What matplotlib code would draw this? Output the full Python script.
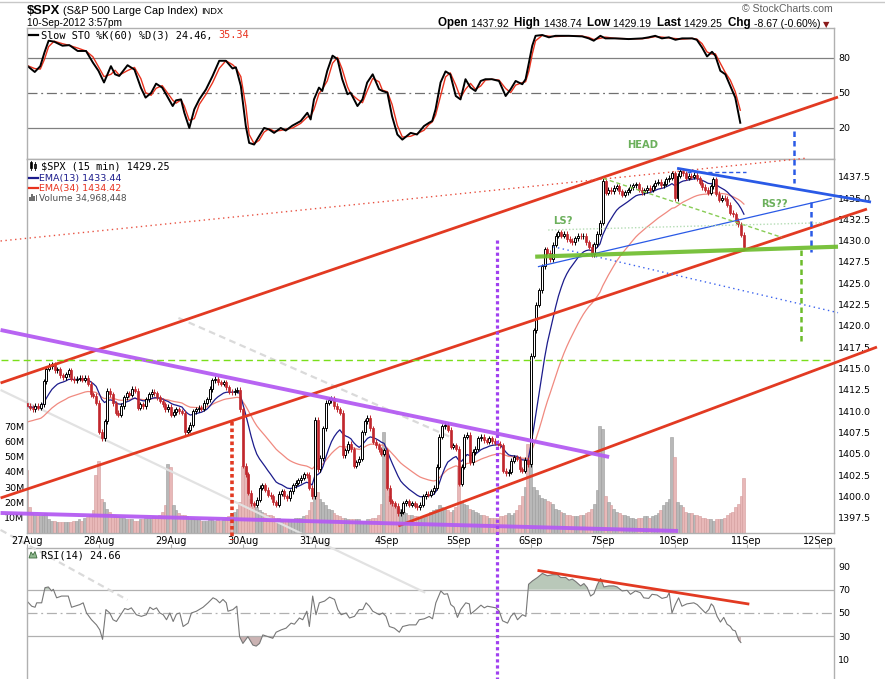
import numpy as np
import matplotlib
matplotlib.use("Agg")
import matplotlib.pyplot as plt
from matplotlib.patches import Rectangle, Polygon

plt.rcParams['font.family'] = ['DejaVu Sans']

# ---------------- data ----------------
day_labels = ["27Aug", "28Aug", "29Aug", "30Aug", "31Aug", "4Sep", "5Sep",
              "6Sep", "7Sep", "10Sep", "11Sep", "12Sep"]
bars_per_day = 26
first_open = 1410.9

close_27aug = [1410.6, 1410.4, 1410.2, 1410.6, 1410.4, 1410.8, 1413.5, 1415.0, 1415.3, 1415.5, 1414.8, 1414.9, 1414.2,
               1414.0, 1414.3, 1414.8, 1413.8, 1413.6, 1413.8, 1413.9, 1413.7, 1413.9, 1413.2, 1412.0, 1411.8, 1411.0]
close_28aug = [1407.6, 1406.8, 1408.8, 1412.4, 1412.0, 1410.9, 1409.8, 1409.6, 1410.6, 1411.6, 1412.1, 1411.9, 1412.6,
               1412.4, 1410.4, 1410.8, 1410.6, 1411.4, 1412.0, 1412.3, 1412.1, 1411.6, 1411.2, 1410.8, 1410.2, 1410.5]
close_29aug = [1409.6, 1409.9, 1410.2, 1410.0, 1409.8, 1407.5, 1407.8, 1408.4, 1410.0, 1410.2, 1410.4, 1410.3, 1411.0,
               1411.4, 1412.6, 1413.6, 1413.8, 1413.4, 1413.2, 1413.4, 1412.8, 1412.3, 1412.2, 1412.4, 1412.5, 1410.2]
close_30aug = [1403.6, 1402.6, 1400.4, 1399.2, 1399.0, 1399.6, 1401.0, 1401.3, 1400.8, 1400.2, 1400.0, 1399.3, 1399.0,
               1400.3, 1400.6, 1400.0, 1399.8, 1400.6, 1401.3, 1401.6, 1401.9, 1402.2, 1402.6, 1402.5, 1401.0, 1400.0]
close_31aug = [1409.0, 1403.2, 1404.5, 1408.0, 1411.0, 1411.3, 1411.5, 1410.6, 1410.2, 1409.8, 1404.8, 1405.4, 1406.2,
               1405.5, 1403.6, 1404.0, 1404.4, 1407.5, 1408.8, 1409.2, 1408.0, 1406.4, 1406.0, 1405.5, 1405.0, 1405.4]
close_4sep = [1401.0, 1399.4, 1399.2, 1398.9, 1398.0, 1398.2, 1399.2, 1399.4, 1399.0, 1399.2, 1398.9, 1398.7, 1399.0,
              1400.0, 1400.3, 1400.2, 1400.6, 1401.0, 1403.5, 1407.0, 1408.2, 1408.4, 1407.8, 1405.8, 1406.0, 1405.6]
close_5sep = [1401.5, 1403.5, 1407.0, 1407.2, 1404.0, 1405.2, 1405.6, 1406.8, 1407.0, 1406.6, 1406.4, 1406.8, 1406.5,
              1406.3, 1406.2, 1406.0, 1403.0, 1402.7, 1402.9, 1404.2, 1404.6, 1404.4, 1403.2, 1403.0, 1404.3, 1403.8]
close_6sep = [1416.5, 1419.5, 1422.5, 1424.2, 1427.0, 1429.0, 1428.6, 1427.8, 1429.5, 1430.6, 1431.0, 1430.6, 1430.8,
              1430.2, 1430.0, 1429.8, 1430.3, 1430.6, 1430.5, 1430.6, 1429.8, 1429.3, 1428.4, 1429.6, 1430.8, 1432.1]
close_7sep = [1437.0, 1435.6, 1436.0, 1435.8, 1436.2, 1436.4, 1435.8, 1435.4, 1435.7, 1435.9, 1436.3, 1436.5, 1436.6,
              1436.0, 1435.7, 1435.9, 1436.2, 1436.0, 1436.4, 1436.8, 1436.9, 1436.5, 1436.7, 1437.2, 1437.4, 1437.9]
close_10sep = [1435.0, 1437.6, 1438.2, 1437.9, 1437.4, 1437.6, 1437.5, 1437.7, 1437.3, 1436.8, 1436.3, 1436.0, 1435.6,
               1436.4, 1437.2, 1435.5, 1434.8, 1435.0, 1434.9, 1434.2, 1433.3, 1433.1, 1432.3, 1431.9, 1430.7, 1429.25]

# volume in millions
vol_27aug = [41, 17, 13, 12, 12, 11, 12, 13, 9, 8, 8, 7, 7, 7, 7.5, 7, 7, 8, 8, 9, 8, 10, 10.5, 12, 15, 38]
vol_28aug = [47, 22, 20, 16, 14, 12, 12, 11, 10, 10, 9, 9, 9, 8, 8, 9, 9, 10, 10, 10, 11, 11, 12, 14, 18, 45]
vol_29aug = [43, 18, 15, 13, 12, 12, 11, 10, 10, 9, 9, 8, 8, 8, 9, 9, 8, 9, 8, 9, 10, 11, 12, 14, 16, 20]
vol_30aug = [44, 43, 38, 22, 19, 17, 15, 14, 13, 12, 12, 11, 10, 10, 9, 9, 9, 9, 9, 10, 10, 10, 11, 12, 15, 20]
vol_31aug = [27, 27, 22, 20, 18, 16, 15, 13, 12, 11, 10, 10, 9, 9, 9, 9, 9, 8, 8, 9, 9, 10, 10, 12, 19, 66]
vol_4sep = [52, 24, 20, 18, 17, 16, 14, 13, 12, 12, 11, 11, 10, 10, 11, 12, 14, 15, 16, 18, 17, 16, 15, 14, 15, 17]
vol_5sep = [43, 20, 19, 18, 16, 15, 14, 13, 12, 12, 11, 10, 10, 10, 10, 11, 11, 12, 13, 12, 13, 15, 18, 24, 30, 58]
vol_6sep = [52, 30, 28, 25, 23, 22, 21, 20, 19, 16, 15, 14, 13, 12, 12, 11, 11, 11, 12, 12, 13, 14, 16, 19, 28, 70]
vol_7sep = [68, 24, 20, 18, 16, 14, 13, 12, 12, 11, 10, 10, 9, 10, 10, 11, 11, 10, 11, 12, 13, 15, 18, 20, 22, 63]
vol_10sep = [50, 20, 18, 17, 14, 13, 13, 12, 12, 11, 10, 10, 9, 9, 8, 9, 9, 9, 10, 12, 13, 14, 17, 19, 24, 36]

ema13_start = 1410.5
ema34_start = 1408.6

# Slow STO %K(60), read at bar positions
sto_x = [0, 3, 5, 6.5, 8, 10, 13, 15.5, 18.5, 21.5, 24, 26, 28, 30.5, 32, 33.5, 36.5, 39, 41.3, 43, 45, 46.8, 49,
         50.4, 52.8, 54, 55.8, 57, 58.8, 60.6, 62.4, 64.8, 67.2, 69.6, 72, 74.4, 75.6, 77.4, 79.2, 80.4, 82.2, 84,
         85.8, 87.6, 89.4, 91.8, 93.6, 96, 99, 101.4, 102.6, 103.8, 105.6, 106.8, 108.6, 110.5, 112.3, 114, 115.9,
         117, 119.5, 121.3, 123, 125, 127.3, 128.5, 130.3, 132, 133.9, 135.7, 138.7, 141, 143.5, 145.3, 146.5,
         147.7, 149.5, 151.3, 153, 155, 156.7, 158.5, 160.3, 162.1, 164, 165.7, 168, 170.6, 173, 174.8, 176.6, 179,
         180.2, 181.4, 182.6, 183.8, 186.2, 188.6, 191, 195.8, 200.6, 203, 204.8, 207.2, 209, 212.6, 217.4, 222.3,
         224.6, 227, 229.4, 231.9, 234.3, 236.7, 240.3, 242, 243.9, 245.7, 247.5, 248.7, 250.5, 252.3, 254.1,
         255.9, 257.7]
sto_k = [73.8, 68, 73, 84.7, 94.8, 94, 90.5, 91, 86, 86, 76, 69, 59, 73, 66, 64.6, 73.8, 70, 54.6, 46, 50, 58, 54.6,
         48.9, 38.8, 43.7, 44.5, 33, 20, 36, 44.5, 53, 64.6, 77.6, 77.6, 71, 72, 56, 21.6, 7.2, 5.8, 13,
         20, 18.7, 15.8, 20, 17.8, 22, 25.9, 33, 27.3, 44.5, 54.6, 51.7, 69, 82, 79, 61.8, 48.9,
         50.3, 38.8, 44.5, 58.9, 66, 53.2, 51.7, 50.3, 30, 14.4, 10, 15.8, 14.4, 21.6, 24.4, 26,
         36, 59, 68.5, 66, 47.4, 44.5, 61.8, 54.6, 51.7, 60.3, 61.8, 61.8, 60.3, 47.4, 53.2, 60.3, 57.5,
         61.8, 76, 90.5, 99, 99.7, 97.7, 99, 99, 98.5, 96.8, 94.8, 99, 96.8, 96.8, 96.2, 96.8,
         97.7, 99, 96.8, 97.7, 95.6, 96.8, 96.8, 95.6, 89, 81.3, 85.3, 81.9, 69, 66, 56,
         46, 24.46]

# RSI(14), read at bar positions
rsi_x = [0, 1.7, 2.9, 3.5, 5.3, 6.5, 7.7, 8.9, 9.5, 10.7, 12.5, 14.9, 16.1, 17.3, 19.1, 20.3, 21.5, 23.3, 25.1,
         26.3, 27.3, 28.5, 29.9, 31.1, 32.3, 33.5, 35.3, 36.5, 37.7, 39.5, 41.3, 43.1, 44.4, 45.6, 46.8, 48, 49.2,
         50.4, 51.6, 52.8, 54, 55.2, 56.4, 58.2, 59.4, 61.2, 63.6, 65.4, 67.2, 68.4, 69.6, 70.8, 72, 72.6, 74.4,
         75.8, 76.8, 78, 79.8, 81.6, 82.8, 84, 85.2, 87, 88.8, 90, 91.8, 93.6, 95.4, 96.6, 98.4, 99.6, 101.1, 102,
         103.2, 104.4, 105.6, 107.5, 109.3, 111.1, 112.3, 113.5, 115.3, 116.5, 118.3, 120, 121.3, 122.5, 123.7,
         124.9, 126.1, 127.3, 128.5, 129.7, 130.9, 132.7, 134.5, 135.7, 138.1, 140.5, 141.7, 143.5, 145.3, 146.5,
         147.7, 149.5, 150.7, 151.9, 153.1, 154.3, 155.5, 156.7, 158.5, 159.8, 160.3, 162.2, 164, 165.2, 166.3,
         168.2, 169.4, 170.6, 171.8, 173.6, 174.8, 176, 177.2, 179, 180.2, 181.2, 182.6, 184.4, 186.2, 188, 189.8,
         191.6, 192.8, 194.6, 195.8, 197, 198.2, 200, 201.2, 202.4, 203.6, 204.8, 206, 207.2, 208.4, 210.2, 212,
         213.2, 215, 216.8, 218, 219.8, 221.6, 222.8, 224.6, 225.8, 227.6, 229.4, 231.2, 232, 233, 234.2, 235.4,
         236.6, 238.4, 240.9, 242.1, 243.9, 245.1, 246.3, 247.2, 248, 249.3, 250.5, 251.7, 252.9, 254.1, 254.9,
         255.9, 257.1, 257.9]
rsi_v = [60.2, 55.8, 54.9, 58.7, 58.7, 71.7, 72.3, 68.9, 70.3, 63, 64.5, 64.5, 54.9, 55.8, 57.2, 58.7, 50, 44.2, 39.8,
         35.5, 27.4, 52.9, 50, 44.2, 42.7, 47.1, 53.8, 52.9, 54.4, 48.5, 47.1, 48.5, 54.9, 52.9, 54.4, 50, 48.5,
         44.2, 50, 42.7, 49.1, 50, 38.4, 41.3, 50, 51.5, 54.9, 58.7, 63, 61.6, 58.7, 61.6, 58.7, 51.5, 52.9,
         55.8, 29.7, 23.9, 29.7, 22.5, 21.6, 23.9, 31.2, 29.7, 28.3, 33.5, 35.5, 37, 41.3, 40.4, 45.7, 44.2, 51.5, 38.4,
         64.5, 48.5, 58.7, 60.2, 63.6, 61.6, 52.9, 48.5, 50, 45.7, 47.1, 52.9, 52.9, 58.7, 55.8,
         51.5, 50, 48.5, 50, 47.1, 38.4, 37, 33.5, 38.4, 39.8, 39.8, 44.2, 45, 47, 45,
         58.7, 68.9, 66, 66.5, 57.2, 54.9, 46.2, 52.9, 58.7, 57.8, 49.1, 52.9, 56.7, 54.4, 55.8,
         54.9, 54.4, 51.5, 43.3, 41.3, 47.1, 50, 44.2, 48.5, 47.1, 74.6, 77.5, 80.4, 83.9, 81.9, 82.8,
         82.8, 80.4, 80.4, 78.1, 79, 77, 73.2, 75.2, 71.7, 64.5, 66.5, 74.1, 79.6, 72.3, 73.2, 73.2,
         72.3, 68.9, 69.4, 66, 68.9, 67.4, 63, 62.5, 66, 65.4, 62.5, 63.6, 67.4, 50, 57.2, 63,
         55.8, 57.8, 58.7, 57.2, 52.9, 50, 52.9, 57.8, 55.8, 47.1, 42.2, 46.2, 40.4, 38.4, 35.5,
         34.6, 26.8, 24.66]

price_ticks = [1397.5, 1400.0, 1402.5, 1405.0, 1407.5, 1410.0, 1412.5, 1415.0, 1417.5, 1420.0,
               1422.5, 1425.0, 1427.5, 1430.0, 1432.5, 1435.0, 1437.5]
vol_ticks = [10, 20, 30, 40, 50, 60, 70]
sto_ticks = [20, 50, 80]
rsi_ticks = [10, 30, 50, 70, 90]

# hand-drawn annotation lines (bar index, price)
red_channel = [((-9.55, 1413.30), (292.98, 1446.85)),
               ((-9.55, 1399.81), (303.45, 1433.71)),
               ((134.13, 1396.53), (307.06, 1417.52))]
red_dotted = ((-9.55, 1429.96), (281.8, 1439.69))
purple_lines = [((-9.55, 1419.52), (210.3, 1404.62)),
                ((-9.55, 1398.05), (235.2, 1395.94))]
red_vertical = ((74.21, 1408.72), (74.21, 1394.88))
purple_vertical = ((169.87, 1430.07), (169.87, 1378.58))
green_level = ((-9.55, 1415.96), (291.53, 1415.96))
gray_solid = ((-9.55, 1412.48), (143.88, 1388.70))
gray_dashed = [((-9.55, 1396.06), (36.3, 1387.85)),
               ((54.71, 1420.93), (152.91, 1406.97))]
blue_thick = ((234.85, 1438.49), (304.9, 1434.53))
blue_thin = ((184.57, 1426.94), (290.7, 1434.97))
blue_hdash = ((238.47, 1438.02), (259.77, 1438.02))
blue_dotted = ((190.09, 1429.29), (292.98, 1421.55))
blue_vdash = [((277.1, 1442.86), (277.1, 1436.76)),
              ((283.12, 1434.53), (283.12, 1428.67))]
green_thick = ((183.59, 1428.12), (292.98, 1429.29))
green_vdash = ((279.63, 1428.90), (279.63, 1417.96))
green_diag = ((208.14, 1437.31), (272.65, 1430.39))
green_dotted = ((188.28, 1431.25), (287.56, 1432.10))
pattern_labels = [("HEAD", 222.22, 1441.22), ("LS?", 193.7, 1432.30), ("RS??", 269.88, 1434.30)]
rsi_trend = ((184.42, 86.5), (260.94, 57.6))

# ---------------- derived series ----------------
closes = np.array(close_27aug + close_28aug + close_29aug + close_30aug + close_31aug + close_4sep +
                  close_5sep + close_6sep + close_7sep + close_10sep)
vols = np.array(vol_27aug + vol_28aug + vol_29aug + vol_30aug + vol_31aug + vol_4sep +
                vol_5sep + vol_6sep + vol_7sep + vol_10sep, dtype=float)
opens = np.concatenate([[first_open], closes[:-1]])
xs = np.arange(len(closes))
up = closes >= opens
wick = 0.3
highs = np.maximum(opens, closes) + wick
lows = np.minimum(opens, closes) - wick


def ema(values, n, start):
    a = 2.0 / (n + 1)
    out, prev = [], start
    for v in values:
        prev = prev + a * (v - prev)
        out.append(prev)
    return np.array(out)


ema13 = ema(closes, 13, ema13_start)
ema34 = ema(closes, 34, ema34_start)
sto_d = [sto_k[0]] + [(a + b) / 2 for a, b in zip(sto_k[:-1], sto_k[1:])]
rsi_arr = np.array(rsi_v)

# ---------------- layout ----------------
W, H = 885, 679
fig = plt.figure(figsize=(W / 100, H / 100), dpi=100, facecolor='white')


def box(x0, y0, x1, y1):
    return [x0 / W, 1 - y1 / H, (x1 - x0) / W, (y1 - y0) / H]


L, R = 27, 834
PXB = 2.77
XLIM = (0.2, 0.2 + (R - L) / PXB)
SPINE = '#b0b0b0'
TXT = 6.8

ax_sto = fig.add_axes(box(L, 28, R, 159), zorder=1)
ax_rsi = fig.add_axes(box(L, 548, R, 679), zorder=1)
ax_vol = fig.add_axes(box(L, 159, R, 533), zorder=2)
ax_main = fig.add_axes(box(L, 159, R, 533), zorder=3)
ax_main.patch.set_visible(False)
ax_over = fig.add_axes([0, 0, 1, 1], zorder=5)
ax_over.set_xlim(0, W)
ax_over.set_ylim(H, 0)
ax_over.axis('off')

for ax in (ax_sto, ax_rsi, ax_vol, ax_main):
    ax.set_xlim(*XLIM)
    for s in ax.spines.values():
        s.set_color(SPINE)
        s.set_linewidth(1.0)
for s in ax_vol.spines.values():
    s.set_visible(False)

# ---- STO panel ----
ax_sto.set_ylim(-6.6, 105.7)
ax_sto.axhline(80, color='#808080', lw=0.9)
ax_sto.axhline(20, color='#808080', lw=0.9)
ax_sto.axhline(50, color='#707070', lw=0.9, ls=(0, (8, 3, 1.5, 3)))
ax_sto.plot(sto_x, sto_d, color='#e8321e', lw=1.0)
ax_sto.plot(sto_x, sto_k, color='black', lw=1.4)
ax_sto.set_xticks([])
ax_sto.yaxis.tick_right()
ax_sto.set_yticks(sto_ticks)
ax_sto.set_yticklabels([str(t) for t in sto_ticks])
ax_sto.tick_params(axis='y', length=0, pad=3, labelsize=TXT, colors='black')

# ---- volume ----
vol_col = np.where(up, '#b8b8b8', '#e8b8b8')
vol_edge = np.where(up, '#9c9c9c', '#d39c9c')
ax_vol.bar(xs, vols, width=1.0, color=vol_col, edgecolor=vol_edge, linewidth=0.4)
ax_vol.set_ylim(0, (533 - 159) / 1.528)
ax_vol.set_xticks([])
ax_vol.set_yticks(vol_ticks)
ax_vol.set_yticklabels([f"{v}M" for v in vol_ticks])
ax_vol.tick_params(axis='y', length=0, pad=2, labelsize=TXT)

# ---- main price panel ----
ax_main.set_ylim(1395.70, 1439.58)
ax_main.plot(xs, ema34, color='#f08a80', lw=0.9, zorder=2)
ax_main.plot(xs, ema13, color='#1c1c8c', lw=0.9, zorder=2.1)
ax_main.vlines(xs, lows, highs, colors=np.where(up, 'black', '#c1272d'), lw=0.7, zorder=2.5)
body = np.maximum(np.abs(closes - opens), 0.06)
ax_main.bar(xs[up], body[up], bottom=opens[up], width=0.72, facecolor='white',
            edgecolor='black', linewidth=0.7, zorder=3)
ax_main.bar(xs[~up], body[~up], bottom=closes[~up], width=0.72, facecolor='#c1272d',
            edgecolor='#c1272d', linewidth=0.5, zorder=3)
ax_main.set_xticks([bars_per_day * d for d in range(len(day_labels))])
ax_main.set_xticklabels(day_labels)
ax_main.tick_params(axis='x', length=0, pad=2.5, labelsize=TXT + 0.2)
ax_main.yaxis.tick_right()
ax_main.set_yticks(price_ticks)
ax_main.set_yticklabels([f"{p:.1f}" for p in price_ticks])
ax_main.tick_params(axis='y', length=0, pad=3, labelsize=TXT)


def seg(line, **kw):
    (x0, y0), (x1, y1) = line
    ax_main.plot([x0, x1], [y0, y1], clip_on=False, solid_capstyle='butt', **kw)


seg(gray_solid, color='#e2e2e2', lw=1.6, zorder=1)
for g in gray_dashed:
    seg(g, color='#dadada', lw=1.6, ls=(0, (3, 2)), zorder=1)
for ln in red_channel:
    seg(ln, color='#e23a22', lw=2.0, zorder=4)
seg(red_dotted, color='#e85040', lw=1.0, ls=(0, (1, 2.5)), zorder=4)
for ln in purple_lines:
    seg(ln, color='#b45cf2', lw=2.8, alpha=0.95, zorder=4)
seg(red_vertical, color='#e23a22', lw=2.6, ls=(0, (1, 0.8)), zorder=4)
seg(purple_vertical, color='#a040f0', lw=2.3, ls=(0, (1, 0.9)), zorder=4)
seg(green_level, color='#7ade1a', lw=1.0, ls=(0, (5, 3)), zorder=4)
seg(blue_thick, color='#2a5ae6', lw=2.0, zorder=4)
seg(blue_thin, color='#2a5ae6', lw=0.9, zorder=4)
seg(blue_hdash, color='#2a5ae6', lw=1.0, ls=(0, (3, 2)), zorder=4)
seg(blue_dotted, color='#3a62ee', lw=1.0, ls=(0, (1, 2.5)), zorder=4)
for v in blue_vdash:
    seg(v, color='#2a5ae6', lw=1.8, ls=(0, (2.2, 1.6)), zorder=4)
seg(green_diag, color='#88cc55', lw=1.0, ls=(0, (3, 2)), zorder=4)
seg(green_dotted, color='#b4dcb4', lw=1.0, ls=(0, (1, 1.5)), zorder=4)
seg(green_thick, color='#6cbc2a', lw=3.0, alpha=0.9, zorder=4)
seg(green_vdash, color='#6cbc2a', lw=1.8, ls=(0, (2.2, 1.6)), zorder=4)
for label, bx, py in pattern_labels:
    ax_main.text(bx, py, label, color='#6cb05c', fontsize=7.2, fontweight='bold',
                 ha='center', va='center', clip_on=False, zorder=6)

# ---- RSI panel ----
ax_rsi.set_ylim(-6.6, 105.7)
ax_rsi.axhline(70, color='#b0b0b0', lw=0.9)
ax_rsi.axhline(30, color='#b0b0b0', lw=0.9)
ax_rsi.axhline(50, color='#b0b0b0', lw=0.9, ls=(0, (8, 3, 1.5, 3)))
ax_rsi.fill_between(rsi_x, rsi_arr, 70, where=rsi_arr >= 70, interpolate=True,
                    color='#b9c8b9', lw=0)
ax_rsi.fill_between(rsi_x, rsi_arr, 30, where=rsi_arr <= 30, interpolate=True,
                    color='#cbb3b3', lw=0)
ax_rsi.plot(rsi_x, rsi_v, color='#777777', lw=0.8)
(rx0, ry0), (rx1, ry1) = rsi_trend
ax_rsi.plot([rx0, rx1], [ry0, ry1], color='#e23a22', lw=2.0, solid_capstyle='butt')
ax_rsi.spines['bottom'].set_visible(False)
ax_rsi.xaxis.set_ticks_position('top')
ax_rsi.set_xticks([bars_per_day * d for d in range(len(day_labels))])
ax_rsi.tick_params(axis='x', direction='out', length=3, color=SPINE, labeltop=False, labelbottom=False)
ax_rsi.yaxis.tick_right()
ax_rsi.set_yticks(rsi_ticks)
ax_rsi.set_yticklabels([str(t) for t in rsi_ticks])
ax_rsi.tick_params(axis='y', length=0, pad=3, labelsize=TXT)

# ---------------- texts ----------------
ov = ax_over
ov.plot([0, W], [1.5, 1.5], color='#c8c8c8', lw=1.0)


def chain(x, y, parts):
    prev = None
    for txt, kw in parts:
        if prev is None:
            prev = ov.text(x, y, txt, va='baseline', ha='left', **kw)
        else:
            prev = ov.annotate(txt, xy=(1, 0), xycoords=prev, va='bottom', ha='left',
                               annotation_clip=False, **kw)
    return prev


HF = ['Liberation Sans', 'DejaVu Sans']
chain(27, 13.5, [("$SPX", dict(fontsize=9.4, fontweight='bold', family=HF)),
                 (" (S&P 500 Large Cap Index) ", dict(fontsize=7.9, family=HF)),
                 ("INDX", dict(fontsize=6.7, family=HF))])
ov.text(27, 26, "10-Sep-2012 3:57pm", fontsize=7.3, family=HF, va='baseline')
ov.text(833, 12.5, "© StockCharts.com", fontsize=7.6, family=HF, color='#606060',
        va='baseline', ha='right')
B = dict(fontsize=8.4, fontweight='bold', family=HF)
N = dict(fontsize=7.5, family=HF)
chain(438, 26, [("Open ", B), ("1437.92  ", N), ("High ", B), ("1438.74  ", N),
                ("Low ", B), ("1429.19  ", N), ("Last ", B), ("1429.25  ", N),
                ("Chg ", B), ("-8.67 (-0.60%) ", N),
                ("▼", dict(fontsize=6.0, color='#8b1a1a', family=['DejaVu Sans']))])

MONO = dict(fontsize=7.4, family=['DejaVu Sans Mono'])
ov.plot([29, 38], [35, 35], color='black', lw=1.6)
chain(41, 38.5, [("Slow STO %K(60) %D(3) 24.46, ", MONO),
                 ("35.34", dict(MONO, color='#e8321e'))])

# candle icon
ov.add_patch(Rectangle((29.5, 162), 2, 6, facecolor='black', edgecolor='black', lw=0.5))
ov.add_patch(Rectangle((33.5, 163.5), 2, 4.5, facecolor='white', edgecolor='black', lw=0.6))
ov.plot([30.5, 30.5], [161, 170], color='black', lw=0.6)
ov.plot([34.5, 34.5], [161.5, 169.5], color='black', lw=0.6)
ov.text(41, 169.5, "$SPX (15 min) 1429.25", va='baseline', **MONO)
ov.plot([29, 38], [177.5, 177.5], color='#1c1c8c', lw=1.6)
ov.text(39, 180.5, "EMA(13) 1433.44", va='baseline', fontsize=6.8, color='#1c1c8c')
ov.plot([29, 38], [188, 188], color='#e8321e', lw=1.6)
ov.text(39, 191, "EMA(34) 1434.42", va='baseline', fontsize=6.8, color='#e8321e')
for i, hgt in enumerate([4, 7, 5, 6]):
    ov.add_patch(Rectangle((29 + 2.2 * i, 201 - hgt), 1.6, hgt, facecolor='#707070', lw=0))
ov.text(39, 201.5, "Volume 34,968,448", va='baseline', fontsize=6.5, color='#505050')

ov.add_patch(Polygon([[29, 558], [31, 552], [33, 555], [35, 551.5], [37, 558]],
                     closed=True, facecolor='#8fb88f', edgecolor='#3c6a3c', lw=0.6))
ov.text(41, 558.5, "RSI(14) 24.66", va='baseline', **MONO)

fig.savefig("out.png", dpi=100, facecolor='white')
